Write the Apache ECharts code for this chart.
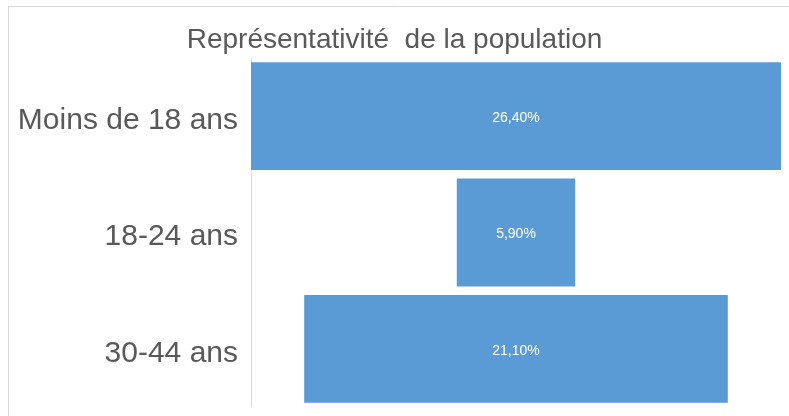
<!DOCTYPE html>
<html>
<head>
<meta charset="utf-8">
<script src="https://cdn.jsdelivr.net/npm/echarts@6/dist/echarts.min.js"></script>
<style>
  html, body { margin: 0; padding: 0; background: #fff; }
  #chart { width: 789px; height: 416px; }
</style>
</head>
<body>
<div id="chart"></div>
<script>
  // données
  var categories = ['Moins de 18 ans', '18-24 ans', '30-44 ans'];
  var values = [26.4, 5.9, 21.1];
  var maxVal = Math.max.apply(null, values);
  // décalage invisible pour centrer chaque barre (effet entonnoir)
  var offsets = values.map(function (v) { return (maxVal - v) / 2; });

  var myChart = echarts.init(document.getElementById('chart'));
  var option = {
    backgroundColor: '#fff',
    textStyle: { fontFamily: 'Liberation Sans, Arial, sans-serif' },
    title: {
      text: 'Représentativité  de la population',
      left: 'center',
      top: 21,
      textStyle: { fontSize: 28, fontWeight: 'normal', color: '#595959' }
    },
    grid: { left: 251, right: 8, top: 58, bottom: 9 },
    xAxis: {
      type: 'value', min: 0, max: maxVal,
      show: false
    },
    yAxis: {
      type: 'category',
      data: categories,
      inverse: true,
      axisLine: { lineStyle: { color: '#d9d9d9', width: 1 } },
      axisTick: { show: false },
      axisLabel: {
        margin: 13,
        formatter: function (v) { return '{c|' + v + '}'; },
        rich: { c: { fontSize: 30, color: '#595959', padding: [9, 0, 0, 0] } }
      }
    },
    series: [
      {
        type: 'bar', stack: 'f', data: offsets,
        itemStyle: { color: 'transparent' },
        silent: true,
        barCategoryGap: '7.3%'
      },
      {
        type: 'bar', stack: 'f', data: values,
        barCategoryGap: '7.3%',
        itemStyle: { color: '#5B9BD5' },
        label: {
          show: true, position: 'inside', color: '#fff', fontSize: 14,
          offset: [0, 2],
          formatter: function (p) { return p.value.toFixed(2).replace('.', ',') + '%'; }
        }
      }
    ],
    graphic: [
      { type: 'line', shape: { x1: 8, y1: 6.5, x2: 789, y2: 6.5 }, style: { stroke: '#d9d9d9', lineWidth: 1 } },
      { type: 'line', shape: { x1: 8.5, y1: 6, x2: 8.5, y2: 416 }, style: { stroke: '#d9d9d9', lineWidth: 1 } }
    ]
  };
  myChart.setOption(option);
</script>
</body>
</html>
